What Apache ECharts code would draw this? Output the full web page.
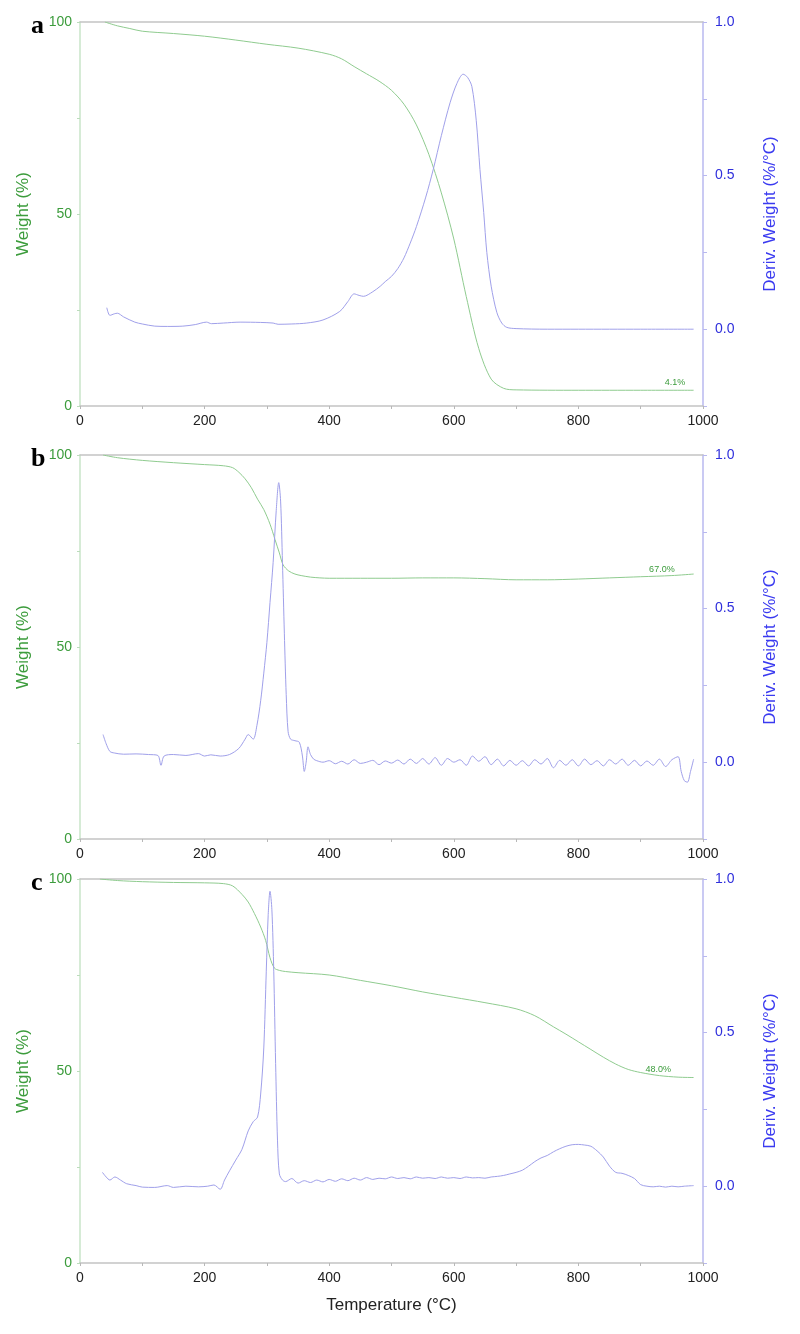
<!DOCTYPE html>
<html><head><meta charset="utf-8">
<script src="https://cdn.jsdelivr.net/npm/echarts@6/dist/echarts.min.js"></script>
<style>html,body{margin:0;padding:0;background:#fff}#c{width:800px;height:1334px}</style>
</head><body><div id="c"></div>
<script>
// ---- Panel a ----
const tempA_w = [40,60,80,100,150,200,250,300,350,400,420,440,460,480,500,520,540,560,580,600,620,640,660,680,700,800,900,985];
const weightA = [100,99.0,98.3,97.6,97.0,96.3,95.3,94.2,93.2,91.6,90.4,88.4,86.5,84.6,82.2,78.6,73.2,65.5,55.5,43.5,28.5,15,7,4.6,4.2,4.1,4.1,4.1];
const tempA_d = [43,48,55,60,70,88,100,120,140,165,185,203,211,230,257,290,310,318,340,364,390,417,430,440,448,455,470,482,490,500,510,520,530,540,555,567,580,594,605,615,622,629,636,642,648,653,660,669,677,685,700,750,800,900,985];
const derivA = [0.07,0.045,0.05,0.052,0.04,0.023,0.017,0.01,0.009,0.01,0.015,0.023,0.018,0.02,0.023,0.022,0.02,0.016,0.017,0.02,0.03,0.058,0.09,0.115,0.11,0.107,0.122,0.14,0.155,0.172,0.197,0.232,0.28,0.334,0.43,0.52,0.63,0.737,0.8,0.83,0.82,0.79,0.68,0.52,0.38,0.25,0.14,0.055,0.02,0.006,0.002,0,0,0,0];
const residueA = ['4.1%', 955, 4.1];

// ---- Panel b ----
const tempB_w = [37,60,100,150,200,230,245,255,265,275,285,295,305,313,320,326,335,345,355,370,385,400,450,500,550,600,650,700,750,800,850,900,950,985];
const weightB = [100,99.3,98.6,98.0,97.5,97.2,96.7,95.5,93.8,91.5,88.5,85.8,82,78,74.5,71.4,69.8,69.0,68.6,68.2,68.0,67.9,67.9,67.9,68.0,68.0,67.8,67.5,67.5,67.7,68.0,68.3,68.6,69.0];
const tempB_d = [37,42,48,55,70,90,110,125,130,135,150,170,190,200,210,225,240,255,265,270,278,284,290,295,300,305,310,315,319,322,325,328,331,334,338,345,352,357,360,363,366,370,375,380,
  390,400,410,420,430,440,450,460,470,480,490,500,510,520,530,540,550,560,570,580,590,600,610,620,630,640,650,660,670,680,690,700,710,720,730,740,750,760,770,780,790,800,810,820,830,840,850,860,870,880,890,900,910,920,930,940,950,960,965,970,975,980,985];
const derivB = [0.09,0.06,0.035,0.03,0.026,0.027,0.025,0.022,-0.01,0.02,0.025,0.022,0.028,0.02,0.024,0.02,0.025,0.045,0.075,0.09,0.075,0.12,0.2,0.29,0.39,0.52,0.65,0.82,0.91,0.85,0.65,0.42,0.22,0.1,0.075,0.07,0.065,0.02,-0.03,0.0,0.05,0.025,0.01,0.005,
  0.0,0.005,-0.005,0.003,-0.006,0.008,-0.004,0.0,0.006,-0.008,0.004,-0.003,0.007,-0.006,0.01,-0.004,0.012,-0.006,0.015,-0.01,0.012,0.0,0.008,-0.01,0.02,0.003,0.018,-0.008,0.01,-0.012,0.006,-0.01,0.005,-0.012,0.008,-0.006,0.012,-0.018,0.006,-0.01,0.008,-0.012,0.01,-0.008,0.005,-0.012,0.008,-0.006,0.01,-0.01,0.006,-0.012,0.004,-0.01,0.01,-0.014,0.008,0.018,-0.03,-0.06,-0.065,-0.03,0.01];
const residueB = ['67.0%', 934, 68.3];

// ---- Panel c ----
const tempC_w = [32,60,100,150,200,230,245,260,270,280,290,298,305,312,320,330,350,400,450,500,550,600,650,700,730,760,780,800,820,840,860,880,900,930,960,985];
const weightC = [100,99.6,99.3,99.1,99.0,98.8,98.2,96,94,91,87.5,84,79.5,76.8,76.2,75.9,75.6,75.0,73.6,72.2,70.6,69.2,67.8,66.2,64.4,61.5,59.6,57.6,55.6,53.6,51.8,50.4,49.6,48.8,48.4,48.3];
const tempC_d = [36,42,48,56,65,75,90,100,120,140,150,170,190,205,215,225,232,240,250,260,270,278,285,290,295,299,302,305,308,311,314,317,320,325,330,340,350,
  360,370,380,390,400,410,420,430,440,450,460,470,480,490,500,510,520,530,540,550,560,570,580,590,600,610,620,630,640,650,660,670,680,690,700,710,720,730,740,750,760,770,780,790,800,810,820,830,840,850,860,870,880,890,900,910,920,930,940,950,960,970,985];
const derivC = [0.045,0.03,0.02,0.03,0.02,0.008,0.002,-0.003,-0.004,0.002,-0.004,0.0,-0.002,0.0,0.004,-0.01,0.02,0.05,0.085,0.12,0.18,0.21,0.225,0.3,0.45,0.7,0.88,0.96,0.9,0.7,0.4,0.15,0.04,0.02,0.015,0.025,0.01,
  0.018,0.012,0.02,0.014,0.022,0.016,0.024,0.018,0.026,0.02,0.028,0.022,0.026,0.024,0.03,0.025,0.028,0.024,0.03,0.026,0.028,0.025,0.03,0.026,0.028,0.025,0.03,0.027,0.028,0.026,0.03,0.032,0.035,0.04,0.045,0.052,0.065,0.08,0.092,0.1,0.112,0.122,0.13,0.135,0.136,0.134,0.13,0.115,0.095,0.065,0.045,0.042,0.035,0.025,0.005,0.0,-0.002,0.0,-0.003,0.0,-0.002,0.0,0.002];
const residueC = ['48.0%', 928, 48.5];

const panelLabels = ['a','b','c'];
const xTicks = [0,200,400,600,800,1000];
const wTicks = [0,50,100];
const dTicks = [0.0,0.5,1.0];

const zip = (xs, ys) => xs.map((x,i)=>[x, ys[i]]);
const panels = [
  {w: zip(tempA_w, weightA), d: zip(tempA_d, derivA), res: residueA},
  {w: zip(tempB_w, weightB), d: zip(tempB_d, derivB), res: residueB},
  {w: zip(tempC_w, weightC), d: zip(tempC_d, derivC), res: residueC}
];

const FONT = 'Liberation Sans, Arial, sans-serif';
const tops = [22, 455, 879];
const H = 384;
const green = '#3c9c3c', blue = '#2f2fdc';
const wLine = '#8fcb8f', dLine = '#a0a0ea';

const grid = [], xAxis = [], yAxis = [], series = [], title = [];
tops.forEach((t, i) => {
  grid.push({left: 80, width: 623, top: t, height: H, containLabel: false});
  xAxis.push({
    type: 'value', gridIndex: i, min: 0, max: 1000, interval: 100, position: 'bottom',
    axisLine: {onZero: false, lineStyle: {color: '#c4c4c4', width: 1.5}},
    axisTick: {length: 3, lineStyle: {color: '#b8b8b8'}},
    axisLabel: {color: '#222', fontFamily: FONT, fontSize: 14, margin: 8,
      formatter: v => xTicks.includes(v) ? String(v) : ''},
    splitLine: {show: false},
    name: i === 2 ? 'Temperature (°C)' : '', nameLocation: 'middle', nameGap: 34,
    nameTextStyle: {color: '#222', fontFamily: FONT, fontSize: 17}
  });
  xAxis.push({
    type: 'value', gridIndex: i, min: 0, max: 1000, position: 'top',
    axisLine: {onZero: false, lineStyle: {color: '#c4c4c4', width: 1.5}},
    axisTick: {show: false}, axisLabel: {show: false}, splitLine: {show: false}
  });
  yAxis.push({
    type: 'value', gridIndex: i, min: 0, max: 100, interval: 25, position: 'left',
    axisLine: {show: true, onZero: false, lineStyle: {color: '#c9e4c9', width: 1.5}},
    axisTick: {show: true, length: 3, lineStyle: {color: '#bcdcbc'}},
    axisLabel: {color: green, fontFamily: FONT, fontSize: 14, margin: 8,
      formatter: v => wTicks.includes(v) ? String(v) : ''},
    splitLine: {show: false},
    name: 'Weight (%)', nameLocation: 'middle', nameGap: 48,
    nameTextStyle: {color: green, fontFamily: FONT, fontSize: 17}
  });
  yAxis.push({
    type: 'value', gridIndex: i, min: -0.25, max: 1.0, interval: 0.25, position: 'right',
    axisLine: {show: true, onZero: false, lineStyle: {color: '#b8b8ef', width: 1.5}},
    axisTick: {show: true, length: 4, lineStyle: {color: '#b8b8ef'}},
    axisLabel: {color: blue, fontFamily: FONT, fontSize: 14, margin: 12,
      formatter: v => dTicks.some(d => Math.abs(d - v) < 1e-9) ? v.toFixed(1) : ''},
    splitLine: {show: false},
    name: 'Deriv. Weight (%/°C)', nameLocation: 'middle', nameGap: 59,
    nameTextStyle: {color: '#3a3af0', fontFamily: FONT, fontSize: 17}
  });
  const p = panels[i];
  series.push({
    type: 'line', xAxisIndex: 2*i, yAxisIndex: 2*i, data: p.w, showSymbol: false, smooth: 0.3,
    lineStyle: {color: wLine, width: 1}, z: 3,
    markPoint: {symbol: 'circle', symbolSize: 0, silent: true,
      data: [{coord: [p.res[1], p.res[2]], value: p.res[0]}],
      label: {show: true, position: 'top', distance: 3, formatter: p.res[0], color: '#3c9c3c', fontFamily: FONT, fontSize: 9}}
  });
  series.push({
    type: 'line', xAxisIndex: 2*i, yAxisIndex: 2*i+1, data: p.d, showSymbol: false, smooth: 0.3,
    lineStyle: {color: dLine, width: 1}, z: 4
  });
  title.push({text: panelLabels[i], left: 26, top: t - 14,
    textStyle: {fontFamily: 'Liberation Serif, Times New Roman, serif', fontWeight: 'bold', fontSize: 26, color: '#000'}});
});

const chart = echarts.init(document.getElementById('c'), null, {renderer: 'canvas'});
chart.setOption({animation: false, backgroundColor: '#fff', title, grid, xAxis, yAxis, series});
</script></body></html>
